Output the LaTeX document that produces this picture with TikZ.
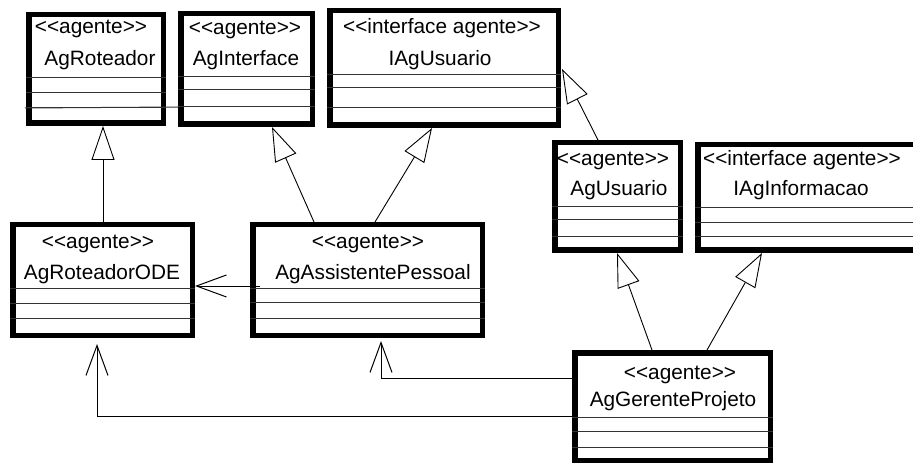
\documentclass[tikz,border=0pt]{standalone}
\usepackage{fontspec}
\setmainfont{Liberation Sans}
\usetikzlibrary{arrows.meta,calc}

% stereotype text with angle pairs kept as plain characters
\newcommand\stereo[1]{<\kern0pt<#1>\kern0pt>}

\begin{document}
\begin{tikzpicture}[x=1pt,y=-1pt,
  classbox/.style={draw, line width=5.5pt, fill=white, outer sep=2.75pt,
                   inner sep=0pt, anchor=north west},
  lbl/.style={anchor=base, inner sep=0pt, font=\fontsize{20.8}{24}\selectfont},
  compline/.style={line width=1pt, draw=black!80},
  gen/.style={line width=0.9pt, -{Triangle[open, length=34pt, width=23pt, line width=0.9pt, fill=white]}},
  dep/.style={line width=0.9pt, -{Straight Barb[length=30pt, width=22pt, line width=1pt]}}
]
\useasboundingbox (0,0) rectangle (913,465);
\clip (0,0) rectangle (913,465);
\fill[white] (0,0) rectangle (913,465);

% ---------- class boxes ----------
\node[classbox, minimum width=134.5pt, minimum height=108.5pt] (agrot)    at (26,12)   {};
\node[classbox, minimum width=131.5pt, minimum height=110.5pt] (agint)    at (178,11)  {};
\node[classbox, minimum width=228.5pt, minimum height=114.5pt] (iagusu)   at (327,8)   {};
\node[classbox, minimum width=125.5pt, minimum height=107.5pt] (agusu)    at (552,140) {};
\node[classbox, minimum width=225pt,   minimum height=105.5pt] (iaginf)   at (695,142) {};
\node[classbox, minimum width=179.5pt, minimum height=110.5pt] (agrotode) at (10,222)  {};
\node[classbox, minimum width=229.5pt, minimum height=110.5pt] (agassist) at (250,222) {};
\node[classbox, minimum width=195.5pt, minimum height=107.5pt] (agger)    at (572,350) {};

% ---------- compartment lines ----------
\foreach \b/\ya/\yb/\yc in {agrot/66/81/96, agint/66/79/96, iagusu/67/80/100,
                             agusu/67/80/97, iaginf/66/81/95, agrotode/66/81/96,
                             agassist/66/80/96, agger/67/81/97}{
  \foreach \yy in {\ya,\yb,\yc}{
    \draw[compline] ($(\b.north west)+(0,\yy)$) -- ($(\b.north east)+(0,\yy)$);
  }
}
% line running across the gap between AgRoteador and AgInterface
\draw[compline] ($(agrot.north west)+(-1,96)$) -- ($(agint.north west)+(0,96)$);

% ---------- labels ----------
\node[lbl] (s1) at (91,34)  {\stereo{agente}};
\node[lbl] (n1) at (100,66) {AgRoteador};
\node[lbl] (s2) at (245,35) {\stereo{agente}};
\node[lbl] (n2) at (246,66) {AgInterface};
\node[lbl] (s3) at (442,34) {\stereo{interface agente}};
\node[lbl] (n3) at (440,66) {IAgUsuario};
\node[lbl] (s4) at (613,166) {\stereo{agente}};
\node[lbl] (n4) at (619,196) {AgUsuario};
\node[lbl] (s5) at (802,166) {\stereo{interface agente}};
\node[lbl] (n5) at (801,196) {IAgInformacao};
\node[lbl] (s6) at (98,248)  {\stereo{agente}};
\node[lbl] (n6) at (102,279) {AgRoteadorODE};
\node[lbl] (s7) at (368,248) {\stereo{agente}};
\node[lbl] (n7) at (373,279) {AgAssistentePessoal};
\node[lbl] (s8) at (680,379) {\stereo{agente}};
\node[lbl] (n8) at (673,406) {AgGerenteProjeto};

% ---------- generalizations ----------
\draw[gen] ($(agrotode.north west)+(93,0)$) -- ($(agrot.south west)+(77,0)$);
\draw[gen] ($(agassist.north west)+(64,0)$) -- ($(agint.south west)+(94,0)$);
\draw[gen] ($(agassist.north west)+(125,0)$) -- ($(iagusu.south west)+(105,0)$);
\draw[gen] ($(agusu.north west)+(46,0)$) -- ($(iagusu.north east)+(1,61)$);
\draw[gen] ($(agger.north west)+(80,0)$) -- ($(agusu.south west)+(65,0)$);
\draw[gen] ($(agger.north west)+(135,0)$) -- ($(iaginf.south west)+(67,0)$);

% ---------- dependencies ----------
\draw[dep] ($(agassist.north west)+(10,64)$) -- ($(agrotode.north east)+(0,64)$);
\draw[dep] ($(agger.north west)+(0,28)$) -| ($(agassist.south west)+(131,3)$);
\draw[dep] ($(agger.north west)+(0,66)$) -| ($(agrotode.south west)+(87,6)$);
\end{tikzpicture}
\end{document}
